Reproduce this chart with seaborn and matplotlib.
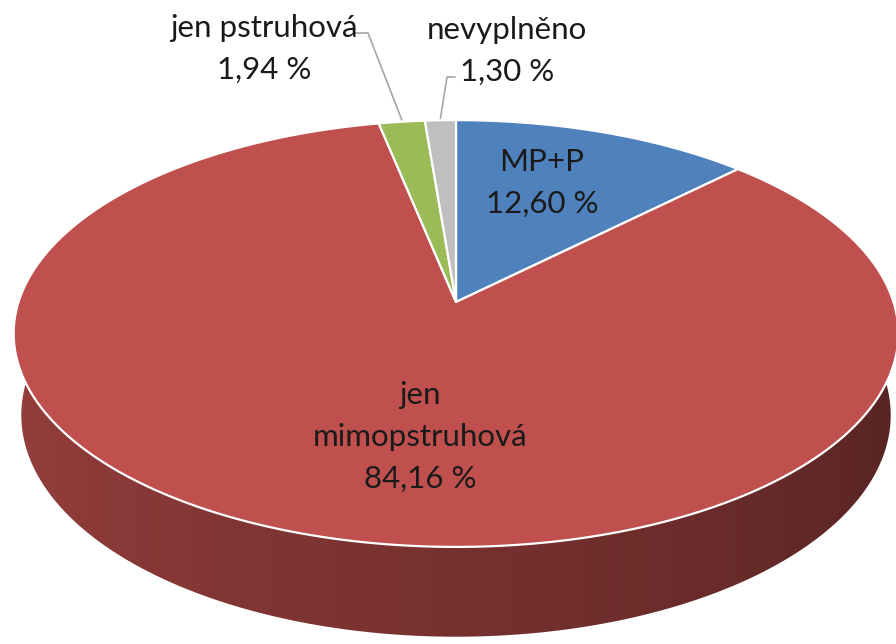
import numpy as np
import pandas as pd
import seaborn as sns
import matplotlib.pyplot as plt
from matplotlib.patches import Polygon

# data
categories = ["MP+P", "jen\nmimopstruhová", "jen pstruhová", "nevyplněno"]
values = [12.60, 84.16, 1.94, 1.30]
colors = ["#4F81BD", "#C0504D", "#9BBB59", "#BFBFBF"]

df = pd.DataFrame({"cat": categories, "val": values, "color": colors})
df["pct"] = df["val"].map(lambda v: f"{v:.2f} %".replace(".", ","))

sns.set_theme(style="white")
plt.rcParams["font.family"] = ["Lato", "DejaVu Sans"]

# 3d perspective settings (pixel space)
cx, cy = 456, 302
f = 2603.0
alpha = np.radians(28.5)
s, c = np.sin(alpha), np.cos(alpha)
d = 5.95
h = 0.214


def proj(theta_deg, z):
    t = np.radians(theta_deg)
    X, Y = np.cos(t), np.sin(t)
    v = Y * s + z * c
    w = d + Y * c - z * s
    return cx + f * X / w, cy - f * v / w


def to_rgb(hexcol):
    return np.array([int(hexcol[i:i + 2], 16) for i in (1, 3, 5)]) / 255


def side_k(m):
    m = np.asarray(m) % 360
    m = np.where(m < 90, m + 360, m)
    return np.clip(0.82 - (m - 180) / 180 * 0.41, 0.41, 0.82)


fig = plt.figure(figsize=(8.96, 6.44), dpi=100)
ax = fig.add_axes([0, 0, 1, 1])
ax.set_xlim(0, 896)
ax.set_ylim(644, 0)
ax.axis("off")

# slice angles, clockwise from top
fr = df["val"] / df["val"].sum() * 360
ends = 90 - fr.cumsum()
starts = ends + fr
df["t0"], df["t1"] = starts.values, ends.values

# shading along x for the front wall
th_front = np.linspace(180, 360, 400)
xs_front = np.array([proj(t, 0)[0] for t in th_front])
k_front = side_k(th_front)
xgrid = np.arange(0, 897)
k_x = np.interp(xgrid, xs_front, k_front)

# side walls with smooth gradient
for _, r in df.iterrows():
    th = np.linspace(r.t0, r.t1, 300)
    pts = [proj(t, 0) for t in th] + [proj(t, -h) for t in th[::-1]]
    poly = Polygon(pts, closed=True, fc="none", ec="none")
    ax.add_patch(poly)
    grad = np.clip(k_x[None, :, None] * to_rgb(r.color)[None, None, :], 0, 1)
    im = ax.imshow(grad, extent=(0, 896, 644, 0), aspect="auto", interpolation="bilinear")
    im.set_clip_path(poly)

# top faces
for _, r in df.iterrows():
    th = np.linspace(r.t0, r.t1, 200)
    pts = [(cx, cy)] + [proj(t, 0) for t in th]
    ax.add_patch(Polygon(pts, closed=True, fc=r.color, ec="white", lw=1.6,
                         joinstyle="round", zorder=3))

ax.set_xlim(0, 896)
ax.set_ylim(644, 0)

txt = dict(ha="center", va="center", fontsize=22.5, color="#1a1a1a", linespacing=1.6, zorder=5)
ax.text(542, 183, f"{df.cat[0]}\n{df.pct[0]}", **txt)
ax.text(420, 437, f"{df.cat[1]}\n{df.pct[1]}", **txt)
ax.text(264, 49, f"{df.cat[2]}\n{df.pct[2]}", **txt)
ax.text(507, 51, f"{df.cat[3]}\n{df.pct[3]}", **txt)

# leader lines
gx, gy = proj((df.t0[2] + df.t1[2]) / 2, 0)
ax.plot([355, 368, gx], [33, 33, gy - 2], color="#A6A6A6", lw=1.2, zorder=4)
nx, ny = proj((df.t0[3] + df.t1[3]) / 2, 0)
ax.plot([455, 447, nx], [77, 77, ny - 2], color="#A6A6A6", lw=1.2, zorder=4)

fig.savefig("out.png", dpi=100, facecolor="white")
